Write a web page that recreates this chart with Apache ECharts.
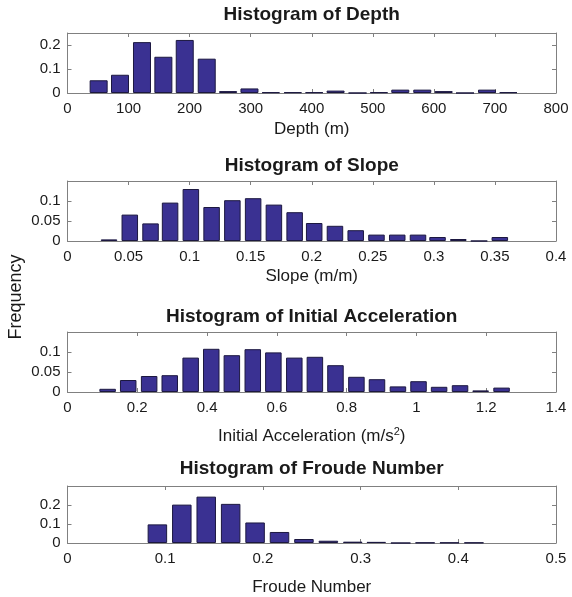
<!DOCTYPE html>
<html>
<head>
<meta charset="utf-8">
<script src="https://cdn.jsdelivr.net/npm/echarts@6/dist/echarts.min.js"></script>
<style>
html,body{margin:0;padding:0;background:#fff;}
#chart{width:572px;height:597px;}
</style>
</head>
<body>
<div id="chart"></div>
<script>
// ---- Data ----
var depthBins = [51, 86, 122, 157, 192, 228, 263, 298, 333, 369, 404, 439, 475, 510, 545, 581, 616, 651, 687, 722];
var depthFreq = [0.053, 0.076, 0.212, 0.151, 0.221, 0.143, 0.008, 0.019, 0.003, 0.003, 0.003, 0.010, 0, 0.003, 0.014, 0.014, 0.008, 0, 0.014, 0.003];

var slopeBins = [0.034, 0.051, 0.068, 0.084, 0.101, 0.118, 0.135, 0.152, 0.169, 0.186, 0.202, 0.219, 0.236, 0.253, 0.270, 0.287, 0.303, 0.320, 0.337, 0.354];
var slopeFreq = [0.004, 0.066, 0.044, 0.096, 0.130, 0.085, 0.102, 0.107, 0.091, 0.072, 0.045, 0.038, 0.027, 0.016, 0.016, 0.016, 0.010, 0.005, 0, 0.010];

var accelBins = [0.115, 0.174, 0.234, 0.293, 0.353, 0.412, 0.471, 0.531, 0.590, 0.650, 0.709, 0.768, 0.828, 0.887, 0.947, 1.006, 1.065, 1.125, 1.184, 1.244];
var accelFreq = [0.008, 0.030, 0.040, 0.042, 0.086, 0.108, 0.092, 0.107, 0.099, 0.086, 0.088, 0.067, 0.038, 0.032, 0.014, 0.027, 0.013, 0.017, 0.004, 0.011];

var froudeBins = [0.092, 0.117, 0.142, 0.167, 0.192, 0.217, 0.242, 0.267, 0.292, 0.316, 0.341, 0.366, 0.391, 0.416];
var froudeFreq = [0.098, 0.202, 0.244, 0.206, 0.108, 0.058, 0.021, 0.012, 0.007, 0.006, 0, 0.002, 0.002, 0.002];

var titles = ['Histogram of Depth', 'Histogram of Slope', 'Histogram of Initial Acceleration', 'Histogram of Froude Number'];
var xNames = ['Depth (m)', 'Slope (m/m)', '{a|Initial Acceleration (m/s}{s|2}{a|)}', 'Froude Number'];
var xMin = [0, 0, 0, 0];
var xMax = [800, 0.4, 1.4, 0.5];
var xStep = [100, 0.05, 0.2, 0.1];
var yMax = [0.25, 0.15, 0.15, 0.3];
var yStep = [0.1, 0.05, 0.05, 0.1];
var yLabel = 'Frequency';

// ---- Layout / style ----
var FONT = 'Liberation Sans, Arial, Helvetica, sans-serif';
var gridTops = [33, 181, 332, 486];
var gridH = 60;
var gridLeft = 67.5, gridRight = 16;
var titleCenters = [15, 166, 317, 469];
var nameGaps = [28, 27, 34, 36];
var barWidths = [18, 16.5, 16.5, 19.5];
var barColor = '#3a3192';
var boxColor = '#808080';
var textColor = '#1a1a1a';

var bins = [depthBins, slopeBins, accelBins, froudeBins];
var freqs = [depthFreq, slopeFreq, accelFreq, froudeFreq];

var grids = [], xAxes = [], yAxes = [], series = [], titleOpts = [];
var plotCenterX = gridLeft + (572 - gridLeft - gridRight) / 2;

for (var i = 0; i < 4; i++) {
  grids.push({left: gridLeft, right: gridRight, top: gridTops[i], height: gridH, containLabel: false});
  titleOpts.push({
    text: titles[i], left: plotCenterX, top: titleCenters[i] - 10, textAlign: 'center', padding: 0,
    textStyle: {fontFamily: FONT, fontSize: 19, fontWeight: 'bold', color: textColor}
  });
  var axisCommon = {
    axisLine: {show: true, onZero: false, lineStyle: {color: boxColor, width: 1}},
    axisTick: {show: true, inside: true, length: 4, lineStyle: {color: boxColor}},
    splitLine: {show: false}
  };
  xAxes.push(Object.assign({
    type: 'value', gridIndex: i, position: 'bottom', min: xMin[i], max: xMax[i], interval: xStep[i],
    name: xNames[i], nameLocation: 'middle', nameGap: nameGaps[i],
    nameTextStyle: {fontFamily: FONT, fontSize: 17, color: textColor,
      rich: {a: {fontFamily: FONT, fontSize: 17, color: textColor},
             s: {fontFamily: FONT, fontSize: 11, color: textColor, verticalAlign: 'top', padding: [0, 0, 9, 0]}}},
    axisLabel: {fontFamily: FONT, fontSize: 15, color: textColor, margin: 8, showMaxLabel: true}
  }, axisCommon));
  xAxes.push(Object.assign({
    type: 'value', gridIndex: i, position: 'top', min: xMin[i], max: xMax[i], interval: xStep[i],
    axisLabel: {show: false}
  }, axisCommon));
  yAxes.push(Object.assign({
    type: 'value', gridIndex: i, position: 'left', min: 0, max: yMax[i], interval: yStep[i],
    axisLabel: {fontFamily: FONT, fontSize: 15, color: textColor, margin: 7, showMaxLabel: false}
  }, axisCommon));
  yAxes.push(Object.assign({
    type: 'value', gridIndex: i, position: 'right', min: 0, max: yMax[i], interval: yStep[i],
    axisLabel: {show: false}
  }, axisCommon));
  var data = [];
  for (var k = 0; k < bins[i].length; k++) data.push([bins[i][k], freqs[i][k]]);
  series.push({
    type: 'bar', xAxisIndex: 2 * i, yAxisIndex: 2 * i, data: data, barWidth: barWidths[i],
    itemStyle: {color: barColor, borderColor: '#1c1840', borderWidth: 1},
    silent: true, animation: false
  });
}

var chart = echarts.init(document.getElementById('chart'), null, {renderer: 'canvas'});
chart.setOption({
  animation: false,
  backgroundColor: '#ffffff',
  title: titleOpts,
  grid: grids,
  xAxis: xAxes,
  yAxis: yAxes,
  series: series,
  graphic: [{
    type: 'text', x: 16, y: 297, rotation: Math.PI / 2,
    style: {text: yLabel, fontFamily: FONT, fontSize: 18, fill: textColor, align: 'center', verticalAlign: 'middle'}
  }]
});
</script>
</body>
</html>
